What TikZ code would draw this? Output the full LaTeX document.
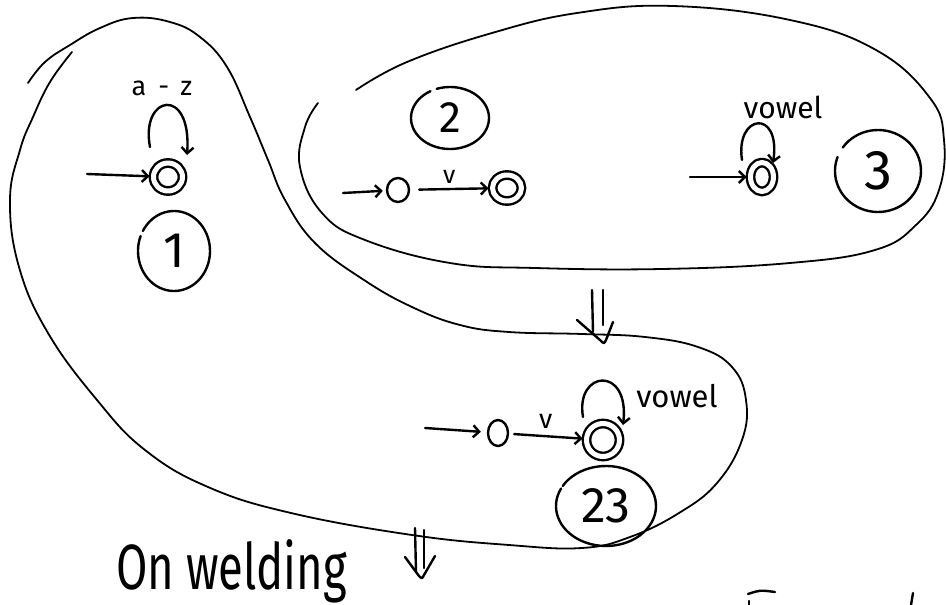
\documentclass[tikz,border=0pt]{standalone}
\usepackage{fontspec}
\setmainfont{Fira Sans}
\usetikzlibrary{arrows.meta,shapes.geometric,calc}

\begin{document}
\begin{tikzpicture}[x=1pt,y=1pt,
  ink/.style={line width=2.4pt, line cap=round, line join=round},
  outline/.style={line width=1.8pt, line cap=round, line join=round},
  arr/.style={ink, -{Straight Barb[length=6pt,width=12pt]}},
  state/.style={ellipse, draw, ink, inner sep=0pt},
  accept/.style={ellipse, draw, ink, double, double distance=5pt, inner sep=0pt, outer sep=4pt},
  hand/.style={font=\fontsize{#1}{#1}\selectfont, inner sep=0pt},
]
\useasboundingbox (0,0) rectangle (946,-605);

% ---- grouping outlines ----
\draw[outline] plot[smooth, tension=0.7] coordinates {
  (28,-83) (45,-62) (70,-45) (100,-28) (133,-18) (170,-22) (200,-37)
  (227,-67) (250,-117) (268,-160) (285,-200) (315,-243) (364,-280)
  (412,-307) (460,-325) (509,-332) (582,-334) (645,-337) (698,-347)
  (732,-367) (746,-400) (742,-440) (717,-483) (679,-513) (630,-537)
  (582,-548) (509,-545) (412,-535) (291,-513) (208,-487) (145,-450)
  (97,-400) (48,-333) (19,-267) (10,-200) (20,-150) (33,-117) (50,-82) (72,-52)};

\draw[outline] plot[smooth, tension=0.7] coordinates {
  (318,-103) (305,-127) (300,-167) (322,-213) (365,-240) (450,-263)
  (535,-268) (662,-269) (790,-263) (875,-250) (916,-225) (939,-190)
  (944,-140) (930,-98) (876,-50) (790,-20) (673,-6) (577,-13)
  (492,-33) (407,-62) (356,-90)};

% ---- automaton 1: a-z loop ----
\node[accept, minimum width=29pt, minimum height=28pt] (q1) at (168,-177) {};
\coordinate (q1in) at (87,-174);
\draw[arr] (q1in) -- (q1);
\draw[arr] ([shift={(-18,30)}]q1.center) .. controls +(-10,52) and +(5,70) .. ([shift={(19,22)}]q1.center);
\node[inner sep=0pt, font=\fontsize{27}{27}\selectfont\addfontfeatures{LetterSpace=45}] (q1lab) at (162,-88) {a-z};
\node[hand=50] (one) at (174,-251) {1};
\draw[ink] ([shift={(150:36 and 40)}]one.center) arc[start angle=150, delta angle=-352, x radius=36, y radius=40];

% ---- automaton 2 ----
\node[state, minimum width=22pt, minimum height=24pt] (p0) at (398,-190) {};
\node[accept, minimum width=29pt, minimum height=26pt] (p1) at (507,-188) {};
\coordinate (p0in) at (343,-193);
\draw[arr, shorten >=3pt] (p0in) -- (p0);
\draw[arr, shorten <=9pt] (p0) -- node[hand=25, above=4pt] (lv2) {v} (p1);
\node[hand=44] (two) at (450,-118) {2};
\draw[ink] ([shift={(120:39 and 31)}]two.center) arc[start angle=120, delta angle=350, x radius=39, y radius=31];

% ---- automaton 3 ----
\node[accept, minimum width=23pt, minimum height=29pt] (r0) at (762,-177) {};
\coordinate (r0in) at (690,-177);
\draw[arr] (r0in) -- (r0);
\draw[arr] ([shift={(-20,17)}]r0.center) .. controls +(-7,46) and +(8,55) .. ([shift={(11,14)}]r0.center);
\node[hand=30] (lv3) at (783,-107) {vowel};
\node[hand=56] (three) at (878,-171) {3};
\draw[ink] ([shift={(145:43 and 41)}]three.center) arc[start angle=145, delta angle=-345, x radius=43, y radius=41];

% ---- merged automaton 23 ----
\node[state, minimum width=20pt, minimum height=26pt] (s0) at (498,-433) {};
\node[accept, minimum width=33pt, minimum height=33pt] (s1) at (603,-440) {};
\coordinate (s0in) at (425,-428);
\draw[arr, shorten >=6pt] (s0in) -- (s0);
\draw[arr, shorten <=5pt] (s0) -- node[hand=27, above=6pt] (lv23) {v} (s1);
\draw[arr] ([shift={(-20,23)}]s1.center) .. controls +(-8,47) and +(7,60) .. ([shift={(20,15)}]s1.center);
\node[hand=31] (lvow23) at (677,-396) {vowel};
\node[hand=50] (tt) at (606,-506) {23};
\draw[ink] ([shift={(150:50 and 40)}]tt.center) arc[start angle=150, delta angle=-356, x radius=50, y radius=40];

% ---- derivation arrows ----
\draw[ink] (592,-290) -- (593,-332);
\draw[ink] (603,-290) -- (603,-325);
\draw[ink] (577,-320) -- (600,-340) .. controls (604,-344) .. (606,-340) -- (613,-322);

\draw[ink] (415,-528) -- (416,-572);
\draw[ink] (424,-530) -- (424,-568);
\draw[ink] (405,-557) -- (419,-576) .. controls (422,-579) .. (424,-575) -- (435,-556);

% ---- caption ----
\node[hand=64, xscale=0.71, transform shape, anchor=base west] (cap) at (116,-589) {On welding};

% ---- strokes cut off at the lower edge ----
\draw[ink] (748,-594) .. controls (760,-590) .. (775,-592);
\draw[ink] (749,-601) -- (749,-605);
\draw[ink] (913,-593) -- (911,-605);
\end{tikzpicture}
\end{document}
